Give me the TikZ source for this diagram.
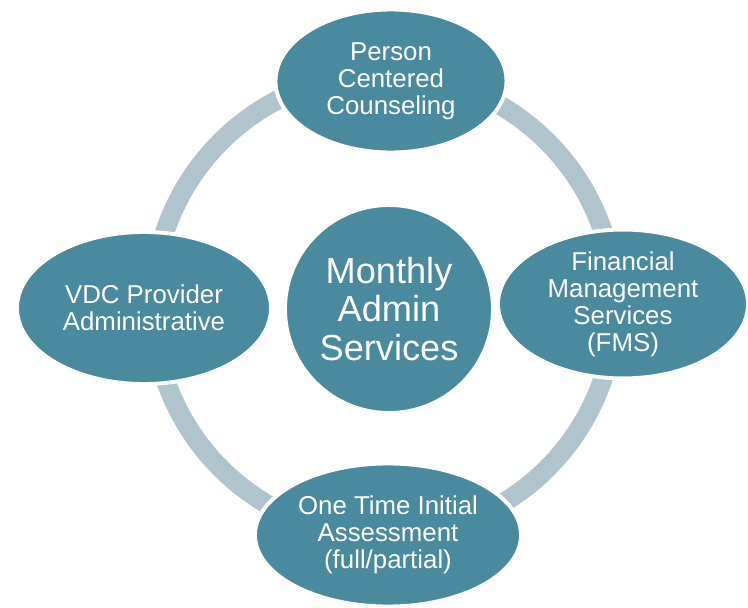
\documentclass[tikz,border=0pt]{standalone}
\usepackage{fontspec}
\setmainfont{Liberation Sans}
\usetikzlibrary{shapes.geometric}
\definecolor{tealfill}{RGB}{74,138,158}
\definecolor{ringgray}{RGB}{176,196,206}
\begin{document}
\begin{tikzpicture}[x=0.02cm, y=-0.02cm]
	\tikzset{service/.style = {shape=ellipse, fill=tealfill, draw=white, line width=2.2pt, text=white, align=center, inner sep=0pt, font=\fontsize{14.7}{15.4}\selectfont}}
	\tikzset{hub/.style = {shape=circle, fill=tealfill, draw=white, line width=2.2pt, text=white, align=center, inner sep=0pt, minimum size=4.16cm, font=\fontsize{20.6}{22}\selectfont}}
	\tikzset{ring/.style = {draw=ringgray, line width=11pt}}
	\useasboundingbox (0,0) rectangle (748,608);
	% Draw ring behind the nodes
	\coordinate (O) at (384,305);
	\draw[ring] (O) circle (4.62cm);
	% Draw services
	\node[hub] (M) at (389,309) {Monthly\\Admin\\Services};
	\node[service, minimum width=4.62cm, minimum height=2.86cm] (P) at (391,81) {Person\\Centered\\Counseling};
	\node[service, minimum width=5.0cm, minimum height=2.94cm] (F) at (623,304) {Financial\\Management\\Services\\(FMS)};
	\node[service, minimum width=5.08cm, minimum height=3.04cm] (V) at (144,308) {VDC Provider\\Administrative};
	\node[service, minimum width=5.32cm, minimum height=2.86cm] (A) at (388,535) {One Time Initial\\Assessment\\(full/partial)};
\end{tikzpicture}
\end{document}
